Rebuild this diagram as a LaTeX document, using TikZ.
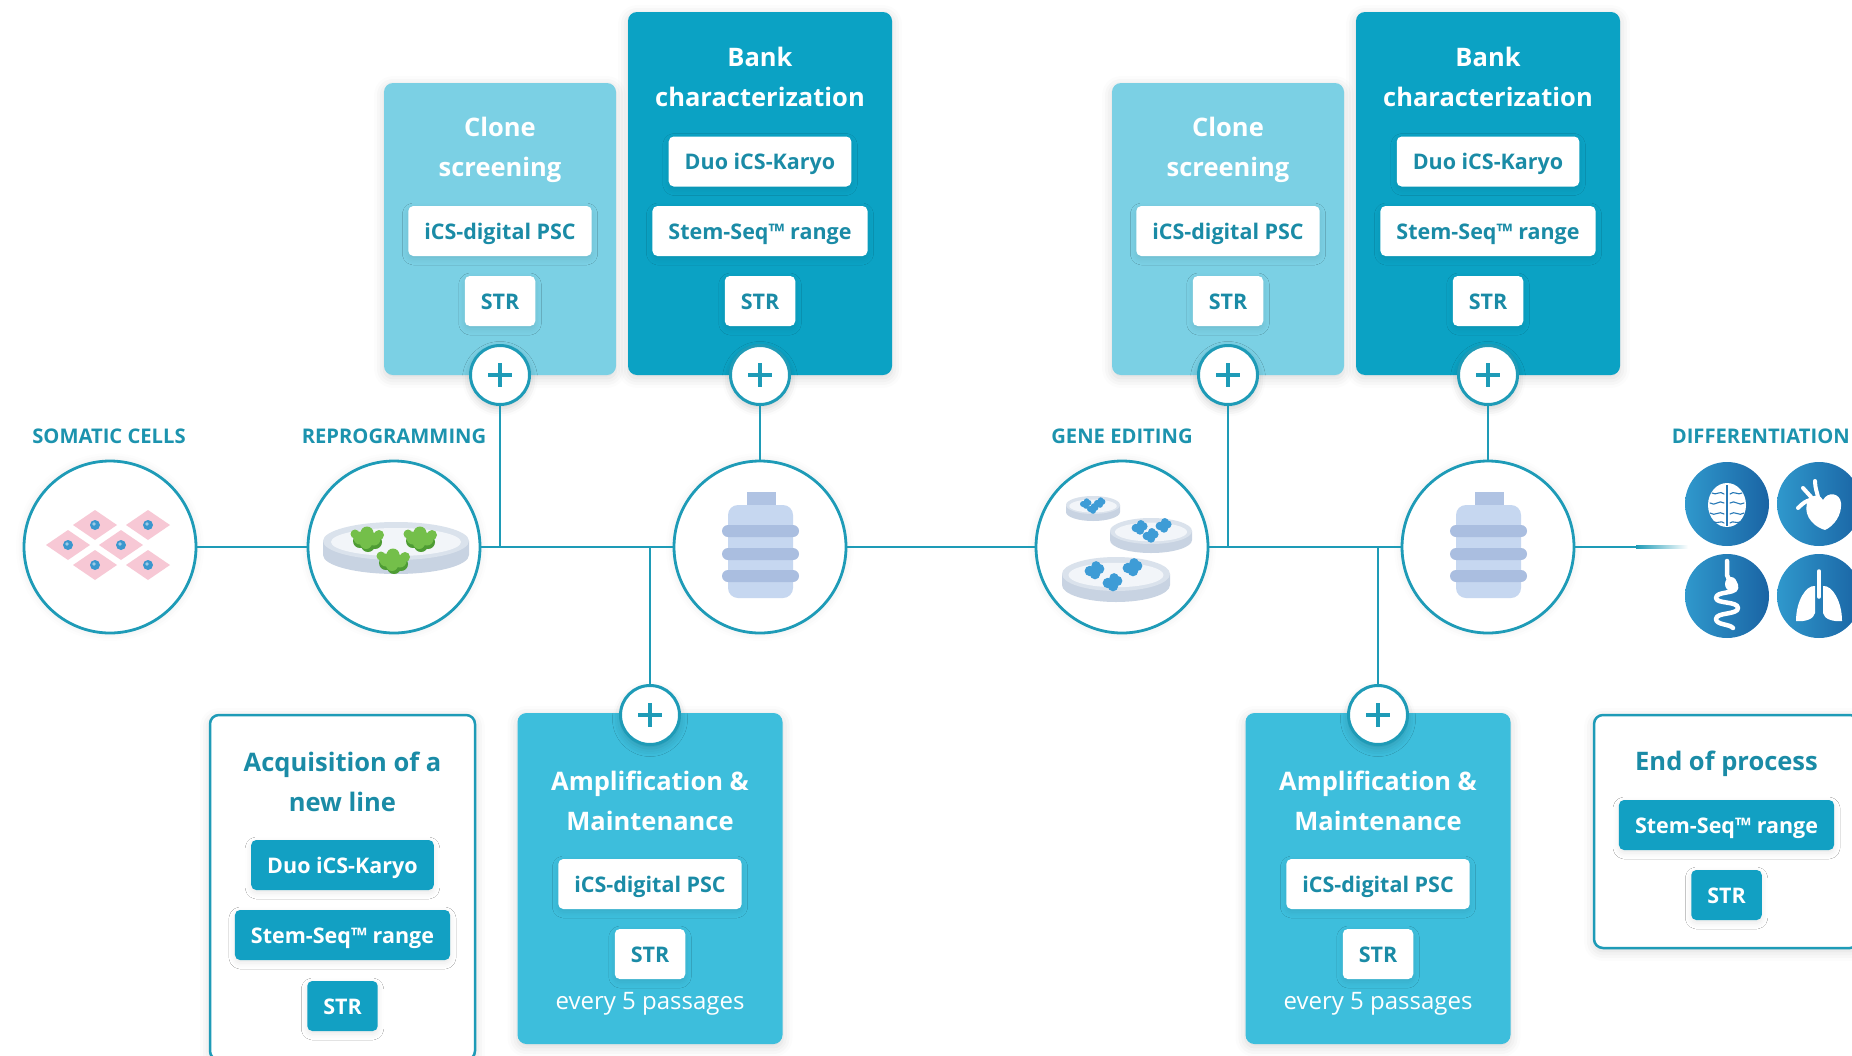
\documentclass[tikz,border=0pt]{standalone}
\usepackage{fontspec}
\setmainfont{Open Sans}
\usetikzlibrary{shadows.blur}

% palette
\definecolor{flowline}{HTML}{1E9BB7}
\definecolor{stageink}{HTML}{1C93AE}
\definecolor{pillink}{HTML}{1A8BA6}
\definecolor{clonefill}{HTML}{7BD0E4}
\definecolor{bankfill}{HTML}{0BA2C4}
\definecolor{ampfill}{HTML}{3DBEDC}
\definecolor{pillteal}{HTML}{12A0C3}
\definecolor{cellpink}{HTML}{F7C8D5}
\definecolor{nucleus}{HTML}{3B97CE}
\definecolor{dishrim}{HTML}{DAE2EC}
\definecolor{dishside}{HTML}{C8D3E2}
\definecolor{dishin}{HTML}{F2F5F9}
\definecolor{colonygreen}{HTML}{74BF4A}
\definecolor{colonydark}{HTML}{4E9C34}
\definecolor{colonyblue}{HTML}{3E9CD6}
\definecolor{bottlebody}{HTML}{C6D7F0}
\definecolor{bottleband}{HTML}{AABEE0}
\definecolor{bottlecap}{HTML}{B0C3E3}
\definecolor{organlight}{HTML}{2F98CC}
\definecolor{organdark}{HTML}{1A64A4}
\definecolor{organline}{HTML}{2678B6}

\newcommand\cardtitlefont{\bfseries\fontsize{25.5}{40}\selectfont}
\newcommand\pilltextfont{\bfseries\fontsize{21.5}{25}\selectfont}
\newcommand\stagetextfont{\bfseries\fontsize{20.2}{22}\selectfont}
\newcommand\cardnotefont{\fontsize{24}{28}\selectfont}

\tikzset{
  card/.style={rectangle, rounded corners=9pt, inner sep=0pt,
    blur shadow={shadow xshift=0pt, shadow yshift=-3pt, shadow blur radius=10pt, shadow opacity=16}},
  pill/.style={rectangle, rounded corners=5pt, fill=white, text=pillink, font=\pilltextfont,
    inner xsep=16pt, inner ysep=0pt, minimum height=50pt, text height=19pt, text depth=3pt,
    blur shadow={shadow xshift=0pt, shadow yshift=-3pt, shadow blur radius=6pt, shadow opacity=9}},
  tealpill/.style={pill, fill=pillteal, text=white},
  cardtitle/.style={font=\cardtitlefont, text=white, align=center, inner sep=0pt},
  cardnote/.style={font=\cardnotefont, text=white, inner sep=0pt},
  stage/.style={circle, draw=flowline, line width=2.8pt, fill=white, minimum size=172pt, inner sep=0pt,
    blur shadow={shadow xshift=0pt, shadow yshift=0pt, shadow blur radius=8pt, shadow opacity=10}},
  plusknob/.style={circle, draw=flowline, line width=3pt, fill=white, minimum size=59pt, inner sep=0pt,
    blur shadow={shadow xshift=0pt, shadow yshift=-4pt, shadow blur radius=8pt, shadow opacity=20}},
  flow/.style={draw=flowline, line width=2.6pt},
  stagelabel/.style={font=\stagetextfont, text=stageink, inner sep=0pt},
  organ/.style={circle, minimum size=84pt, inner sep=0pt, left color=organlight, right color=organdark},
  plussign/.pic={\draw[flowline, line width=3.4pt] (-12,0) -- (12,0) (0,-12) -- (0,12);},
}

\begin{document}
\begin{tikzpicture}[x=1pt, y=-1pt]
\useasboundingbox (0,0) rectangle (1852,1055);
\clip (0,0) rectangle (1852,1055);

% ---------- stage circles on the main line ----------
\node[stage] (soma)  at (110,547) {};
\node[stage] (repro) at (394,547) {};
\node[stage] (gene)  at (1122,547) {};

\node[stagelabel] (somaLabel)  at (109,436)  {SOMATIC CELLS};
\node[stagelabel] (reproLabel) at (394,436)  {REPROGRAMMING};
\node[stagelabel] (geneLabel)  at (1122,436) {GENE EDITING};
\node[stagelabel, anchor=east] (diffLabel) at (1850,436) {DIFFERENTIATION};

% ---------- the two repeated bank groups ----------
\foreach \g/\dx in {A/0, B/728} {
  % clone screening card
  \node[card, fill=clonefill, minimum width=232pt, minimum height=292pt] (clone\g) at ({500+\dx},229) {};
  \node[cardtitle] (cloneTitle\g) at ({500+\dx},149.5) {Clone\\screening};
  \node[pill] (cloneDigital\g) at ({500+\dx},231) {iCS-digital PSC};
  \node[pill] (cloneStr\g) at ({500+\dx},301) {STR};
  % bank characterization card
  \node[card, fill=bankfill, minimum width=264pt, minimum height=363pt] (bankCard\g) at ({760+\dx},193.5) {};
  \node[cardtitle] (bankTitle\g) at ({760+\dx},76.5) {Bank\\characterization};
  \node[pill] (bankKaryo\g) at ({760+\dx},161.5) {Duo iCS-Karyo};
  \node[pill] (bankSeq\g) at ({760+\dx},231) {Stem-Seq™ range};
  \node[pill] (bankStr\g) at ({760+\dx},301) {STR};
  % amplification card
  \node[card, fill=ampfill, minimum width=265pt, minimum height=331pt] (amp\g) at ({650+\dx},878.5) {};
  \node[cardtitle] (ampTitle\g) at ({650+\dx},801) {Amplification \&\\Maintenance};
  \node[pill] (ampDigital\g) at ({650+\dx},884) {iCS-digital PSC};
  \node[pill] (ampStr\g) at ({650+\dx},954) {STR};
  \node[cardnote] (ampNote\g) at ({650+\dx},1004) {every 5 passages};
  % bank stage circle
  \node[stage] (bankStage\g) at ({760+\dx},547) {};
  % plus knobs
  \node[plusknob] (knobClone\g) at ({500+\dx},375) {};
  \pic at (knobClone\g) {plussign};
  \node[plusknob] (knobBank\g) at ({760+\dx},375) {};
  \pic at (knobBank\g) {plussign};
  \node[plusknob] (knobAmp\g) at ({650+\dx},715) {};
  \pic at (knobAmp\g) {plussign};
  % connectors of the group
  \coordinate (tee\g) at ({500+\dx},547);
  \coordinate (drop\g) at ({650+\dx},547);
  \draw[flow] (knobClone\g) -- (tee\g);
  \draw[flow] (knobBank\g) -- (bankStage\g);
  \draw[flow] (drop\g) -- (knobAmp\g);
  % cell bank bottle
  \fill[bottlecap] ({747+\dx},492) rectangle ({776+\dx},509);
  \fill[bottlebody, rounded corners=10pt] ({728+\dx},505) rectangle ({793+\dx},598);
  \foreach \by in {525,548,570} {
    \fill[bottleband, rounded corners=6pt] ({722+\dx},\by) rectangle ({799+\dx},\by+12);
  }
}

% ---------- main line ----------
\coordinate (fadeStart) at (1636,547);
\draw[flow] (soma) -- (repro);
\draw[flow] (repro) -- (bankStageA);
\draw[flow] (bankStageA) -- (gene);
\draw[flow] (gene) -- (bankStageB);
\draw[flow] (bankStageB) -- (fadeStart);
\fill[left color=flowline, right color=white] (1636,545.7) rectangle (1688,548.3);

% ---------- acquisition card ----------
\node[card, fill=white, draw=flowline, line width=2.5pt, minimum width=265pt, minimum height=345pt] (acq) at (342.5,887.5) {};
\node[cardtitle, text=pillink] (acqTitle) at (342.5,782) {Acquisition of a\\new line};
\node[tealpill] (acqKaryo) at (342.5,865) {Duo iCS-Karyo};
\node[tealpill] (acqSeq) at (342.5,935) {Stem-Seq™ range};
\node[tealpill] (acqStr) at (342.5,1006) {STR};

% ---------- end of process card ----------
\node[card, fill=white, draw=flowline, line width=2.5pt, minimum width=265pt, minimum height=233pt] (endCard) at (1726.5,831.5) {};
\node[cardtitle, text=pillink] (endTitle) at (1726.5,764) {End of process};
\node[tealpill] (endSeq) at (1726.5,825) {Stem-Seq™ range};
\node[tealpill] (endStr) at (1726.5,895) {STR};

% ---------- somatic cells ----------
\foreach \cx/\cy in {95/525, 148/525, 68/545, 121/545, 95/565, 148/565} {
  \fill[cellpink] (\cx-22,\cy) -- (\cx,\cy-15) -- (\cx+22,\cy) -- (\cx,\cy+15) -- cycle;
  \fill[nucleus] (\cx,\cy) circle (5pt);
  \fill[white, opacity=0.5] (\cx-1,\cy-1) circle (1.8pt);
}

% ---------- reprogramming dish ----------
\fill[dishside] (323,541) -- (323,555) arc[start angle=180, end angle=360, x radius=73pt, y radius=19pt] -- (469,541) -- cycle;
\fill[dishrim] (396,541) ellipse[x radius=73pt, y radius=19pt];
\fill[dishin] (396,542) ellipse[x radius=65pt, y radius=14pt];
\foreach \kx/\ky in {368/538, 421/538, 394/560} {
  \fill[colonydark] (\kx-8,\ky+3) circle (7pt) (\kx+7,\ky+4) circle (7pt) (\kx,\ky+7) circle (7pt);
  \fill[colonygreen] (\kx-8,\ky) circle (6.5pt) (\kx+6,\ky+1) circle (6.5pt) (\kx-1,\ky-5) circle (6.5pt)
    (\kx-2,\ky+5) circle (6pt) (\kx+11,\ky-3) circle (5pt) (\kx-13,\ky-4) circle (4.5pt);
}

% ---------- gene editing dishes ----------
\foreach \cx/\cy/\hr/\vr/\dep in {1093/505/27/9/7, 1151/531/41/13/9, 1116/574/54/17/11} {
  \fill[dishside] (\cx-\hr,\cy) -- (\cx-\hr,\cy+\dep) arc[start angle=180, end angle=360, x radius=\hr pt, y radius=\vr pt] -- (\cx+\hr,\cy) -- cycle;
  \fill[dishrim] (\cx,\cy) ellipse[x radius=\hr pt, y radius=\vr pt];
  \fill[dishin] (\cx,\cy+1) ellipse[x radius={0.88*\hr pt}, y radius={0.72*\vr pt}];
}
\foreach \bx/\by/\bs in {1086/504/3, 1100/503/3, 1093/509/3,
                         1140/528/4.2, 1164/526/4.2, 1151/536/4.2,
                         1095/571/5.2, 1133/568/5.2, 1113/583/5.2} {
  \fill[colonyblue] (\bx-\bs,\by) circle (\bs pt) (\bx+0.8*\bs,\by-0.4*\bs) circle (\bs pt)
    (\bx,\by+0.6*\bs) circle (\bs pt) (\bx+0.2*\bs,\by-\bs) circle ({0.9*\bs pt});
}

% ---------- differentiation organs ----------
\node[organ] (brain) at (1727,504) {};
\node[organ] (heart) at (1819,504) {};
\node[organ] (gut)   at (1727,596) {};
\node[organ] (lungs) at (1819,596) {};

% brain
\fill[white] (1727,505) ellipse[x radius=19pt, y radius=22pt];
\draw[organline, line width=1.3pt] (1727,485) -- (1727,526);
\draw[organline, line width=1.1pt, line cap=round]
  (1712,493) .. controls (1716,496) and (1720,490) .. (1724,494)
  (1710,503) .. controls (1715,507) and (1719,499) .. (1724,503)
  (1710,513) .. controls (1715,517) and (1719,510) .. (1724,514)
  (1714,522) .. controls (1718,524) and (1721,520) .. (1724,523)
  (1742,493) .. controls (1738,496) and (1734,490) .. (1730,494)
  (1744,503) .. controls (1739,507) and (1735,499) .. (1730,503)
  (1744,513) .. controls (1739,517) and (1735,510) .. (1730,514)
  (1740,522) .. controls (1736,524) and (1733,520) .. (1730,523);

% heart
\fill[white] (1825,530) .. controls (1809,525) and (1803,511) .. (1808,501)
  .. controls (1813,493) and (1821,495) .. (1823,500)
  .. controls (1828,491) and (1840,493) .. (1841,503)
  .. controls (1842,515) and (1834,526) .. cycle;
\draw[white, line width=4pt, line cap=round]
  (1798,508) .. controls (1803,503) and (1806,501) .. (1810,500)
  (1803,488) -- (1812,498)
  (1815,481) .. controls (1815,488) and (1817,492) .. (1818,497);

% intestine
\fill[white] (1731,584) ellipse[x radius=6pt, y radius=7pt];
\draw[white, line width=4.5pt, line cap=round, line join=round]
  (1727,561) -- (1727,575) .. controls (1727,581) and (1737,580) .. (1736,588)
  .. controls (1735,594) and (1716,591) .. (1716,598)
  .. controls (1716,604) and (1738,601) .. (1738,608)
  .. controls (1738,615) and (1716,612) .. (1716,619)
  .. controls (1716,625) and (1730,624) .. (1733,628);

% lungs
\draw[white, line width=3.5pt, line cap=round] (1819,571) -- (1819,597);
\fill[white] (1815,586) .. controls (1806,585) and (1796,601) .. (1796,621)
  .. controls (1805,622) and (1814,619) .. (1815,613) -- cycle;
\fill[white] (1823,586) .. controls (1832,585) and (1842,601) .. (1842,621)
  .. controls (1833,622) and (1824,619) .. (1823,613) -- cycle;
\end{tikzpicture}
\end{document}
